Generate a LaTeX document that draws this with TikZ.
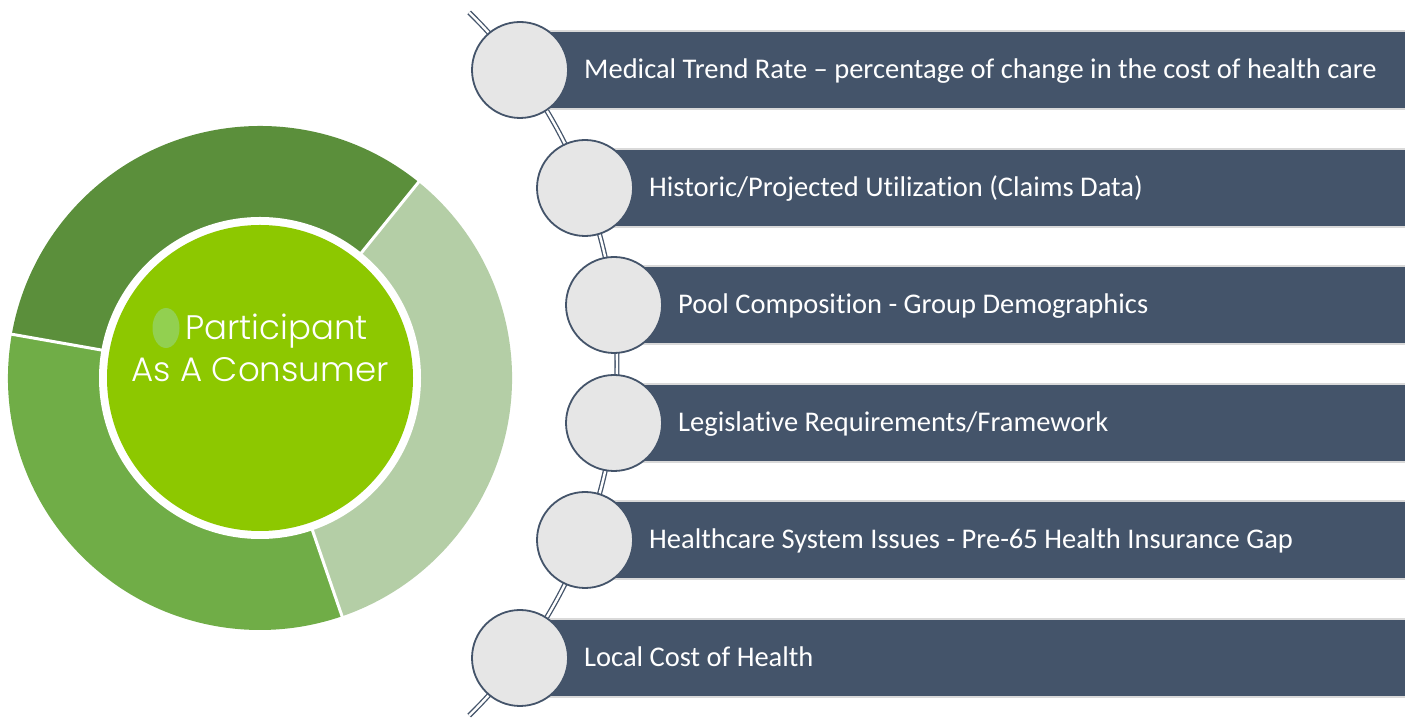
\documentclass[tikz,border=0pt]{standalone}
\usepackage{fontspec}
\setmainfont{Carlito}[Ligatures=NoCommon]
\IfFontExistsTF{Poppins Light}{\newfontfamily\gothic{Poppins Light}}{\newfontfamily\gothic{Poppins}}
\usetikzlibrary{shapes.geometric}
\definecolor{slate}{HTML}{44546A}
\definecolor{discgray}{HTML}{E6E6E6}
\definecolor{barshade}{HTML}{D9D9D9}
\definecolor{ringdark}{HTML}{5B8F3B}
\definecolor{ringmid}{HTML}{70AD47}
\definecolor{ringlight}{HTML}{B4CEA6}
\definecolor{hubgreen}{HTML}{8DC800}
\definecolor{bulletgreen}{HTML}{92D050}
\begin{document}
\begin{tikzpicture}[x=1pt,y=1pt,
  bar/.style={fill=slate, draw=none, anchor=west, minimum height=76pt, inner sep=0},
  shade/.style={fill=barshade, draw=none, anchor=west, minimum height=80pt, inner sep=0},
  disc/.style={circle, fill=discgray, draw=slate, line width=1.8pt, minimum size=96pt, inner sep=0},
  itemtext/.style={anchor=base west, text=white, inner sep=0, font=\fontsize{28.5}{34}\selectfont},
  hubtext/.style={text=white, inner sep=0, font=\gothic\fontsize{34}{40}\selectfont},
  link/.style={draw=slate, line width=1.3pt, double=white, double distance=2.4pt}]
\useasboundingbox (0,0) rectangle (1405,719);
\fill[white] (0,0) rectangle (1405,719);

% ---- donut on the left ----
\coordinate (O) at (260,341);
\fill[ringdark]  (O) -- ++(51:252)  arc[start angle=51,  end angle=170, radius=252] -- cycle;
\fill[ringmid]   (O) -- ++(170:252) arc[start angle=170, end angle=289, radius=252] -- cycle;
\fill[ringlight] (O) -- ++(289:252) arc[start angle=289, end angle=411, radius=252] -- cycle;
\foreach \a in {51,170,289} \draw[white, line width=3pt] (O) -- ++(\a:253);
\fill[white] (O) circle[radius=161];
\node[circle, fill=hubgreen, minimum size=306pt, inner sep=0] (hub) at (O) {};
\node[ellipse, fill=bulletgreen, minimum width=27pt, minimum height=40pt, inner sep=0] (dot) at (166,391) {};
\node[hubtext, anchor=base west] (p1) at (185,379) {Participant};
\node[hubtext, anchor=base] (p2) at (260,337) {As A Consumer};

% ---- curved double rail through the discs ----
\coordinate (railtop) at (469.2,706.5);
\draw[link] (railtop) arc[start angle=45.6, end angle=-45.6, radius=492];

% ---- bars ----
\node[shade, minimum width=885pt] (s1) at (520,649) {};
\node[shade, minimum width=820pt] (s2) at (585,531) {};
\node[shade, minimum width=791pt] (s3) at (614,414) {};
\node[shade, minimum width=791pt] (s4) at (614,296) {};
\node[shade, minimum width=820pt] (s5) at (585,179) {};
\node[shade, minimum width=885pt] (s6) at (520,61) {};
\node[bar, minimum width=885pt] (b1) at (520,649) {};
\node[bar, minimum width=820pt] (b2) at (585,531) {};
\node[bar, minimum width=791pt] (b3) at (614,414) {};
\node[bar, minimum width=791pt] (b4) at (614,296) {};
\node[bar, minimum width=820pt] (b5) at (585,179) {};
\node[bar, minimum width=885pt] (b6) at (520,61) {};

\node[itemtext] (t1) at (584,640) {Medical Trend Rate – percentage of change in the cost of health care};
\node[itemtext] (t2) at (649,522) {Historic/Projected Utilization (Claims Data)};
\node[itemtext] (t3) at (678,405) {Pool Composition - Group Demographics};
\node[itemtext] (t4) at (678,287) {Legislative Requirements/Framework};
\node[itemtext] (t5) at (649,170) {Healthcare System Issues - Pre-65 Health Insurance Gap};
\node[itemtext] (t6) at (584,52) {Local Cost of Health};

% ---- discs ----
\node[disc] (c1) at (520,649) {};
\node[disc] (c2) at (585,531) {};
\node[disc] (c3) at (614,414) {};
\node[disc] (c4) at (614,296) {};
\node[disc] (c5) at (585,179) {};
\node[disc] (c6) at (520,61) {};
\end{tikzpicture}
\end{document}
